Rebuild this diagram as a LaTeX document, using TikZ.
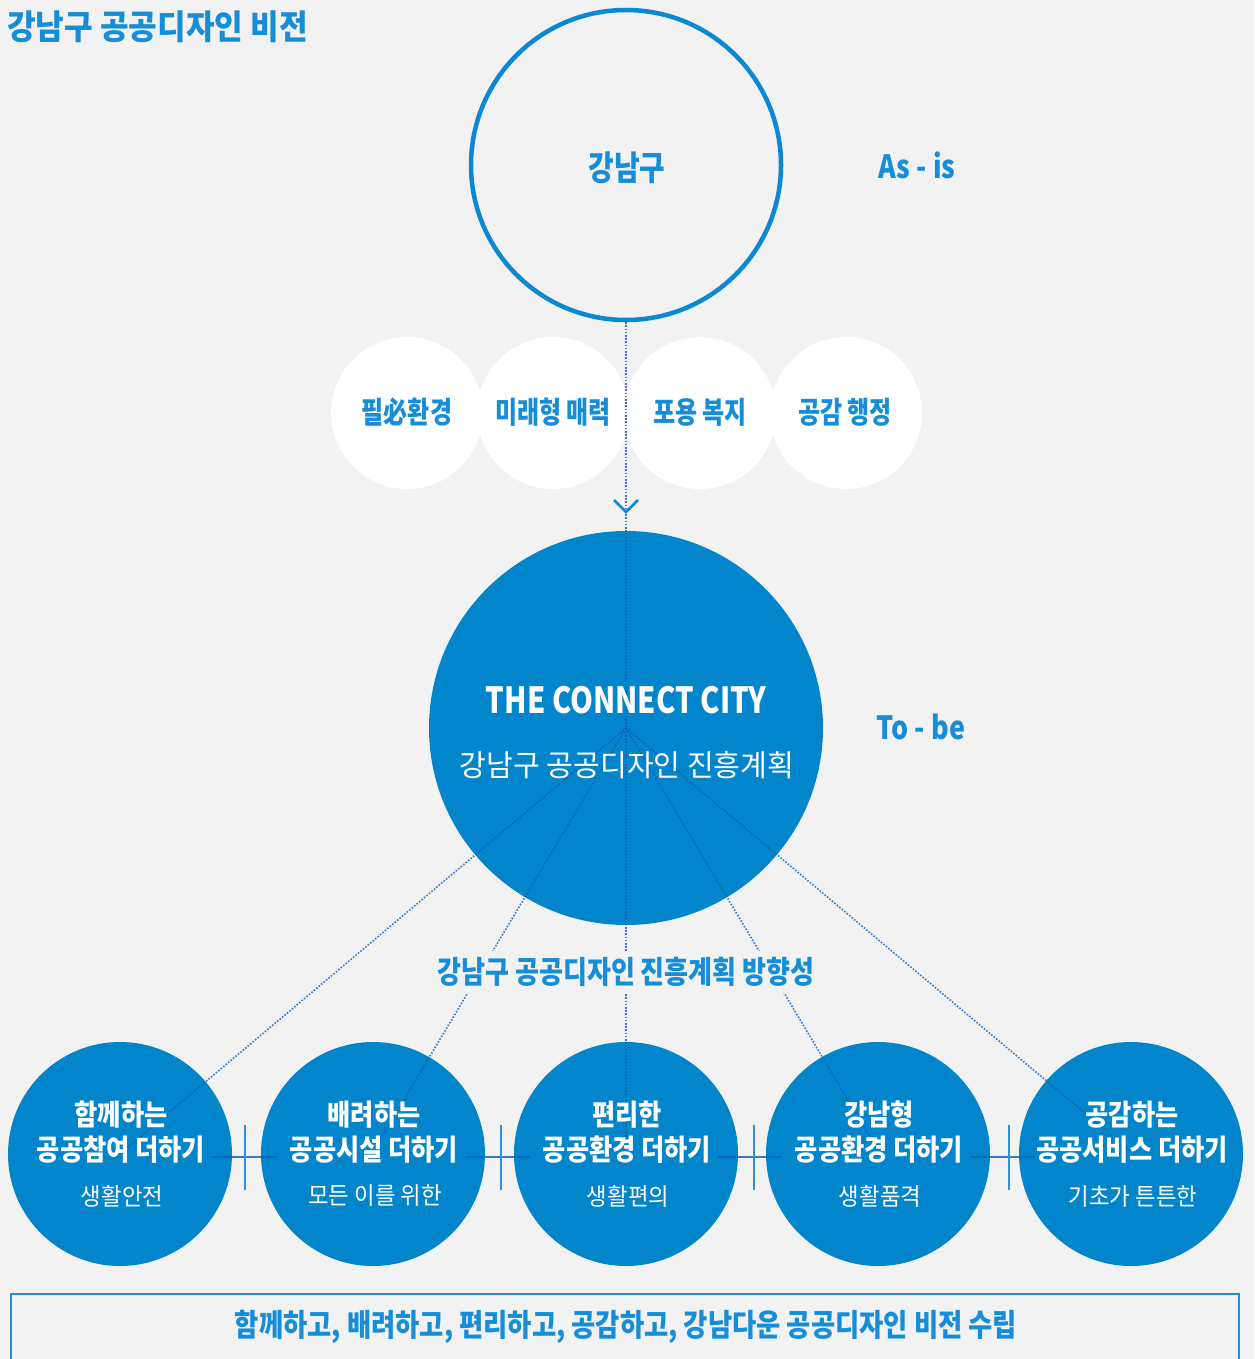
\documentclass[tikz,border=0pt]{standalone}
\usepackage{fontspec}
\usepackage{graphicx}
\setmainfont{Noto Sans CJK KR}
\definecolor{bg}{HTML}{F2F2F2}
\definecolor{tblue}{HTML}{168DD8}
\definecolor{cfill}{HTML}{0385CB}
\definecolor{ring}{HTML}{0A88D4}
\definecolor{dline}{HTML}{0A5CB8}
\definecolor{boxline}{HTML}{1E90DA}
\definecolor{tick}{HTML}{2A92DA}
\newcommand\sx[2]{\scalebox{#1}[1]{#2}}
\newcommand\fs[1]{\fontsize{#1}{#1}\selectfont}
\tikzset{
  bluedisc/.style={circle,fill=cfill,minimum size=224pt,inner sep=0pt},
  whitedisc/.style={circle,fill=white,minimum size=152pt,inner sep=0pt},
  dotline/.style={draw=dline,opacity=0.8,line width=1.6pt,dash pattern=on 1.6pt off 1.6pt},
  hconn/.style={draw=dline,opacity=0.8,line width=2.4pt},
  tickline/.style={draw=tick,line width=2pt},
  chev/.style={draw=ring,line width=2.6pt},
  txt/.style={inner sep=0pt,anchor=center},
  btxt/.style={txt,text=tblue,font=\bfseries},
  wtxt/.style={txt,text=white},
}
\begin{document}
\begin{tikzpicture}[x=1pt,y=-1pt]
\fill[bg] (0,0) rectangle (1254,1359);
\useasboundingbox (0,0) rectangle (1254,1359);

% title
\node[txt,anchor=west,text=tblue,font=\bfseries] (title) at (7,27) {\fs{34}\sx{0.915}{강남구 공공디자인 비전}};

% top circle
\node[circle,draw=ring,line width=4.5pt,minimum size=310pt,inner sep=0pt] (top) at (626,165) {};
\node[btxt] (toptxt) at (627,168) {\fs{34}\sx{0.82}{강남구}};
\node[btxt] (asis) at (917,165) {\fs{32}\sx{0.84}{As - is}};

% white circles
\node[whitedisc] (w1) at (407,413) {};
\node[whitedisc] (w2) at (553,413) {};
\node[whitedisc] (w3) at (700,413) {};
\node[whitedisc] (w4) at (846,413) {};
\node[btxt] (w1t) at (407,412) {\fs{30}\sx{0.8}{필必환경}};
\node[btxt] (w2t) at (553,412) {\fs{30}\sx{0.8}{미래형 매력}};
\node[btxt] (w3t) at (700,412) {\fs{30}\sx{0.8}{포용 복지}};
\node[btxt] (w4t) at (845,412) {\fs{30}\sx{0.8}{공감 행정}};

% big circle
\node[circle,fill=cfill,minimum size=394pt,inner sep=0pt] (big) at (626,728) {};
\coordinate (hub) at (626,728);

% bottom circles
\node[bluedisc] (c1) at (120,1154) {};
\node[bluedisc] (c2) at (373,1154) {};
\node[bluedisc] (c3) at (626,1154) {};
\node[bluedisc] (c4) at (878,1154) {};
\node[bluedisc] (c5) at (1131,1154) {};

% end points of dotted rays
\coordinate (e1) at (128,1147);
\coordinate (e2) at (381,1138);
\coordinate (e3) at (626,1137);
\coordinate (e4) at (870,1137);
\coordinate (e5) at (1130,1151);

% vertical dotted line and chevron
\draw[dotline] (top.south) -- (e3);
\coordinate (tip) at (626,512);
\draw[chev] ([shift={(-12pt,12pt)}]tip) -- (tip) -- ([shift={(12pt,12pt)}]tip);

% rays
\draw[dotline] (hub) -- (e1);
\draw[dotline] (hub) -- (e2);
\draw[dotline] (hub) -- (e4);
\draw[dotline] (hub) -- (e5);

% horizontal connectors with ticks
\foreach \a/\b/\t in {c1/c2/245,c2/c3/501,c3/c4/754,c4/c5/1009}{
  \draw[hconn,shorten <=92pt,shorten >=96pt] ([yshift=-3pt]\a.center) -- ([yshift=-3pt]\b.center);
  \draw[tickline] (\t,1125) -- (\t,1190);
}

% big circle texts
\node[wtxt,font=\bfseries] (tcc) at (626,700) {\fs{36}\sx{0.81}{THE CONNECT CITY}};
\node[wtxt] (sub) at (627,765) {\fs{30}\sx{0.97}{강남구 공공디자인 진흥계획}};
\node[btxt] (tobe) at (921,727) {\fs{32}\sx{0.84}{To - be}};

% direction label (with background to break lines)
\node[btxt,fill=bg,inner xsep=4pt,inner ysep=6pt] (dir) at (626,972) {\fs{31}\sx{0.84}{강남구 공공디자인 진흥계획 방향성}};

% bottom circle texts
\foreach \n/\x/\la/\lb/\lc in {1/120/함께하는/공공참여 더하기/생활안전,
  2/373/배려하는/공공시설 더하기/모든 이를 위한,
  3/626/편리한/공공환경 더하기/생활편의,
  4/878/강남형/공공환경 더하기/생활품격,
  5/1131/공감하는/공공서비스 더하기/기초가 튼튼한}{
  \node[wtxt,font=\bfseries] (l1\n) at (\x+1,1115) {\fs{29}\sx{0.87}{\la}};
  \node[wtxt,font=\bfseries] (l2\n) at (\x+1,1150) {\fs{29}\sx{0.87}{\lb}};
  \node[wtxt] (l3\n) at (\x+2,1196) {\fs{24}\sx{0.93}{\lc}};
}

% bottom frame
\coordinate (bl) at (11,1370);
\coordinate (tl) at (11,1294);
\coordinate (tr) at (1239,1294);
\coordinate (br) at (1239,1370);
\draw[boxline,line width=1.5pt] (bl) -- (tl) -- (tr) -- (br);
\node[btxt] (vision) at (626,1327) {\fs{31}\sx{0.85}{함께하고, 배려하고, 편리하고, 공감하고, 강남다운 공공디자인 비전 수립}};
\end{tikzpicture}
\end{document}
